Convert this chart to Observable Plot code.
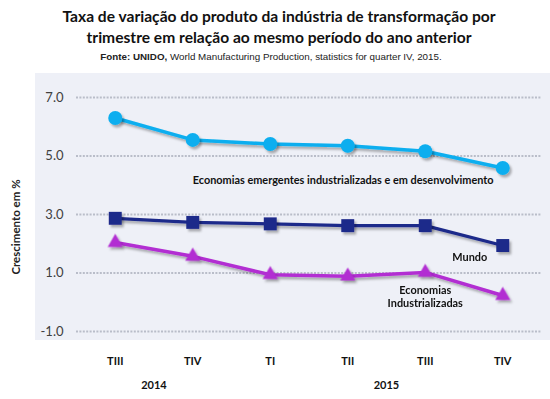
<!DOCTYPE html>
<html>
<head>
<meta charset="utf-8">
<script src="https://cdn.jsdelivr.net/npm/d3@7"></script>
<script src="https://cdn.jsdelivr.net/npm/@observablehq/plot@0.6"></script>
<style>
  html, body { margin: 0; padding: 0; background: #fff; }
  #wrap { position: relative; width: 550px; height: 399px; overflow: hidden; }
  #bg { position: absolute; left: 35px; top: 73px; width: 515px; height: 267px; background: #eef0f7; }
  #title { position: absolute; left: 0; top: 6px; width: 558px; text-align: center;
           font-family: Lato, sans-serif; font-weight: bold; font-size: 15.6px; line-height: 21px; color: #111; }
  #sub { position: absolute; left: 0; top: 51px; width: 542px; text-align: center;
         font-family: "Liberation Sans", Arial, sans-serif; font-size: 9.8px; color: #222; }
  #ylab { position: absolute; left: -44px; top: 220px; width: 120px; height: 14px; line-height: 14px;
          text-align: center; transform: rotate(-90deg); font-family: Lato, sans-serif; font-weight: bold;
          font-size: 11.5px; color: #222; }
  #chart { position: absolute; left: 0; top: 66px; }
</style>
</head>
<body>
<div id="wrap">
  <div id="bg"></div>
  <div id="title">Taxa de variação do produto da indústria de transformação por<br>trimestre em relação ao mesmo período do ano anterior</div>
  <div id="sub"><b>Fonte: UNIDO,</b> World Manufacturing  Production,  statistics for quarter  IV, 2015.</div>
  <div id="chart"></div>
  <div id="ylab">Crescimento em %</div>
</div>
<script>
const quarters = ["TIII", "TIV", "TI", "TII", "TIII", "TIV"];
const years = ["2014", "2014", "2015", "2015", "2015", "2015"];
const emergentes = [6.30, 5.55, 5.41, 5.35, 5.16, 4.59];
const mundo = [2.87, 2.73, 2.68, 2.62, 2.62, 1.94];
const industrializadas = [2.04, 1.57, 0.94, 0.89, 1.02, 0.23];
const yTicks = [-1, 1, 3, 5, 7];
const seriesNames = ["Economias emergentes industrializadas e em desenvolvimento", "Mundo", "Economias\nIndustrializadas"];

const idx = quarters.map((_, i) => i);
const rows = (vals) => vals.map((v, i) => ({i, v}));
const em = rows(emergentes), mu = rows(mundo), ind = rows(industrializadas);
const yearGroups = d3.groups(idx, i => years[i]).map(([y, is]) => ({year: y, i: d3.mean(is)}));

const cEm = "#0aaeef", cMu = "#1f2a8a", cInd = "#b22ed2";

const plot = Plot.plot({
  width: 550,
  height: 333,
  marginLeft: 76,
  marginRight: 9,
  marginTop: 31,
  marginBottom: 68,
  style: {fontFamily: "Lato, sans-serif", background: "transparent", overflow: "visible"},
  x: {type: "linear", domain: [-0.5, 5.5], axis: null},
  y: {domain: [-1, 7], axis: null},
  marks: [
    Plot.ruleY(yTicks, {stroke: "#b9bdc9", strokeWidth: 2, strokeDasharray: "2,1.4"}),
    Plot.axisY(yTicks, {tickSize: 0, tickPadding: 13, tickFormat: d => d.toFixed(1), fontSize: 13, color: "#404040", label: null}),
    Plot.axisX(idx, {tickSize: 0, tickPadding: 26, tickFormat: i => quarters[i], fontSize: 11, fontWeight: "bold", color: "#111", label: null}),
    Plot.text(yearGroups, {x: "i", text: "year", frameAnchor: "bottom", dy: 57, fontSize: 11, fontWeight: "bold", fill: "#111"}),
    Plot.line(em, {x: "i", y: "v", stroke: cEm, strokeWidth: 3.5}),
    Plot.dot(em, {x: "i", y: "v", fill: cEm, r: 7, symbol: "circle"}),
    Plot.line(mu, {x: "i", y: "v", stroke: cMu, strokeWidth: 3.2}),
    Plot.dot(mu, {x: "i", y: "v", fill: cMu, r: 7.3, symbol: "square"}),
    Plot.line(ind, {x: "i", y: "v", stroke: cInd, strokeWidth: 3.5}),
    Plot.dot(ind, {x: "i", y: "v", fill: cInd, r: 5.6, symbol: "triangle"}),
    Plot.text([em[1]], {x: "i", y: "v", text: () => seriesNames[0], textAnchor: "start", dx: 0, dy: 41, fontSize: 10.9, fontWeight: "bold", fill: "#111"}),
    Plot.text([mu[5]], {x: "i", y: "v", text: () => seriesNames[1], dx: -33, dy: 12, fontSize: 10.9, fontWeight: "bold", fill: "#111"}),
    Plot.text([ind[4]], {x: "i", y: "v", text: () => seriesNames[2], dx: 0, dy: 24, lineHeight: 1.2, fontSize: 10.9, fontWeight: "bold", fill: "#111"})
  ]
});

const svg = d3.select(plot);
const defs = svg.insert("defs", ":first-child");
const f = defs.append("filter").attr("id", "shadow").attr("x", "-20%").attr("y", "-20%").attr("width", "140%").attr("height", "160%");
f.append("feDropShadow").attr("dx", 2).attr("dy", 2.5).attr("stdDeviation", 1.3).attr("flood-color", "#000").attr("flood-opacity", 0.3);
svg.selectAll("g[aria-label=line], g[aria-label=dot]").attr("filter", "url(#shadow)");

document.getElementById("chart").appendChild(plot);
</script>
</body>
</html>
